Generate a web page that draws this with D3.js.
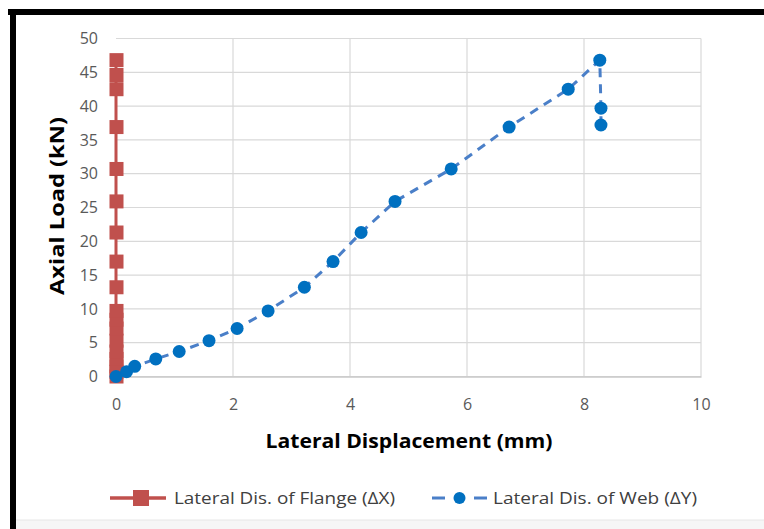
<!DOCTYPE html>
<html>
<head>
<meta charset="utf-8">
<script src="https://cdn.jsdelivr.net/npm/d3@7"></script>
<style>
  html, body { margin: 0; padding: 0; background: #ffffff; }
  svg { display: block; }
</style>
</head>
<body>
<svg id="chart" width="764" height="529"></svg>
<script>
// Axis ticks
const xTicks = [0, 2, 4, 6, 8, 10];
const yTicks = [0, 5, 10, 15, 20, 25, 30, 35, 40, 45, 50];

// Flange (ΔX): lateral displacement (mm) and axial load (kN)
const flangeDisp = [0, 0, 0, 0, 0, 0, 0, 0, 0, 0, 0, 0, 0, 0, 0, 0, 0, 0];
const flangeLoad = [0, 0.7, 1.5, 2.6, 3.7, 5.3, 7.1, 8.4, 9.7, 13.2, 17.0, 21.3, 25.9, 30.7, 36.9, 42.5, 44.6, 46.8];

// Web (ΔY): lateral displacement (mm) and axial load (kN)
const webDisp = [0, 0.18, 0.32, 0.68, 1.08, 1.59, 2.07, 2.60, 3.22, 3.71, 4.19, 4.77, 5.73, 6.72, 7.73, 8.27, 8.29, 8.29];
const webLoad = [0, 0.7, 1.5, 2.6, 3.7, 5.3, 7.1, 9.7, 13.2, 17.0, 21.3, 25.9, 30.7, 36.9, 42.5, 46.8, 39.7, 37.2];

const seriesNames = ["Lateral Dis. of Flange (\u0394X)", "Lateral Dis. of Web (\u0394Y)"];
const axisTitles = { x: "Lateral Displacement (mm)", y: "Axial Load (kN)" };

const red = "#c0504d";
const blue = "#0070c0";
const blueLine = "#4a7fc8";
const tickGray = "#595959";
const font = "'Open Sans', 'Liberation Sans', sans-serif";

const svg = d3.select("#chart");

// Frame: heavy top and left rule, pale strip at the bottom
svg.append("rect").attr("x", 0).attr("y", 0).attr("width", 764).attr("height", 529).attr("fill", "#ffffff");
svg.append("rect").attr("x", 16).attr("y", 520).attr("width", 748).attr("height", 9).attr("fill", "#f6f6f6");
svg.append("line").attr("x1", 16).attr("x2", 764).attr("y1", 520).attr("y2", 520).attr("stroke", "#e6e6e6");
svg.append("rect").attr("x", 8).attr("y", 9).attr("width", 756).attr("height", 6).attr("fill", "#000");
svg.append("rect").attr("x", 10).attr("y", 9).attr("width", 6).attr("height", 520).attr("fill", "#000");

const plot = { left: 116, right: 701, top: 38.5, bottom: 376.5 };

const x = d3.scaleLinear().domain([0, 10]).range([plot.left, plot.right]);
const y = d3.scaleLinear().domain([0, 50]).range([plot.bottom, plot.top]);

// Gridlines
const grid = svg.append("g");
grid.selectAll("line.h").data(yTicks).join("line")
  .attr("x1", plot.left).attr("x2", plot.right)
  .attr("y1", d => y(d)).attr("y2", d => y(d))
  .attr("stroke", "#d9d9d9").attr("stroke-width", 1.2);
grid.selectAll("line.v").data(xTicks.filter(d => d > 0)).join("line")
  .attr("x1", d => x(d)).attr("x2", d => x(d))
  .attr("y1", plot.top).attr("y2", plot.bottom)
  .attr("stroke", "#d9d9d9").attr("stroke-width", 1.2);

// Axes (labels only)
const xAxis = svg.append("g").attr("transform", `translate(0,${plot.bottom})`)
  .call(d3.axisBottom(x).tickValues(xTicks).tickSize(0).tickPadding(22));
xAxis.select(".domain").attr("stroke", "#c8c8c8").attr("stroke-width", 1.5);
xAxis.selectAll("text").attr("fill", tickGray).style("font-family", font).style("font-size", "16px");

const yAxis = svg.append("g").attr("transform", `translate(${plot.left},0)`)
  .call(d3.axisLeft(y).tickValues(yTicks).tickSize(0).tickPadding(18));
yAxis.select(".domain").remove();
yAxis.selectAll("text").attr("fill", tickGray).style("font-family", font).style("font-size", "16px");

// Axis titles
svg.append("text")
  .attr("x", 409).attr("y", 448)
  .attr("text-anchor", "middle")
  .attr("textLength", 287).attr("lengthAdjust", "spacingAndGlyphs")
  .style("font-family", font).style("font-size", "20px").style("font-weight", "bold")
  .attr("fill", "#000")
  .text(axisTitles.x);

svg.append("text")
  .attr("transform", "translate(64,206) rotate(-90)")
  .attr("text-anchor", "middle")
  .attr("textLength", 178).attr("lengthAdjust", "spacingAndGlyphs")
  .style("font-family", font).style("font-size", "20px").style("font-weight", "bold")
  .attr("fill", "#000")
  .text(axisTitles.y);

// Series
const flange = flangeDisp.map((d, i) => ({ x: d, y: flangeLoad[i] }));
const web = webDisp.map((d, i) => ({ x: d, y: webLoad[i] }));
const line = d3.line().x(d => x(d.x)).y(d => y(d.y));

svg.append("path").datum(flange)
  .attr("d", line).attr("fill", "none")
  .attr("stroke", red).attr("stroke-width", 3);
svg.append("g").selectAll("rect").data(flange).join("rect")
  .attr("x", d => x(d.x) - 6.5).attr("y", d => y(d.y) - 7)
  .attr("width", 14).attr("height", 14)
  .attr("fill", red);

svg.append("path").datum(web)
  .attr("d", line).attr("fill", "none")
  .attr("stroke", blueLine).attr("stroke-width", 3)
  .attr("stroke-dasharray", "9,7");
svg.append("g").selectAll("circle").data(web).join("circle")
  .attr("cx", d => x(d.x)).attr("cy", d => y(d.y))
  .attr("r", 6.5).attr("fill", blue);

// Legend
const ly = 498;
const lg = svg.append("g");
lg.append("line").attr("x1", 110).attr("x2", 166).attr("y1", ly).attr("y2", ly)
  .attr("stroke", red).attr("stroke-width", 3.5);
lg.append("rect").attr("x", 133).attr("y", ly - 8).attr("width", 16).attr("height", 16).attr("fill", red);
lg.append("text").attr("x", 174).attr("y", ly + 6)
  .attr("textLength", 221).attr("lengthAdjust", "spacingAndGlyphs")
  .style("font-family", font).style("font-size", "17px").attr("fill", "#404040")
  .text(seriesNames[0]);

lg.append("line").attr("x1", 432).attr("x2", 445).attr("y1", ly).attr("y2", ly)
  .attr("stroke", blueLine).attr("stroke-width", 3);
lg.append("line").attr("x1", 474).attr("x2", 487).attr("y1", ly).attr("y2", ly)
  .attr("stroke", blueLine).attr("stroke-width", 3);
lg.append("circle").attr("cx", 459.5).attr("cy", ly).attr("r", 6).attr("fill", blue);
lg.append("text").attr("x", 493).attr("y", ly + 6)
  .attr("textLength", 204).attr("lengthAdjust", "spacingAndGlyphs")
  .style("font-family", font).style("font-size", "17px").attr("fill", "#404040")
  .text(seriesNames[1]);
</script>
</body>
</html>
